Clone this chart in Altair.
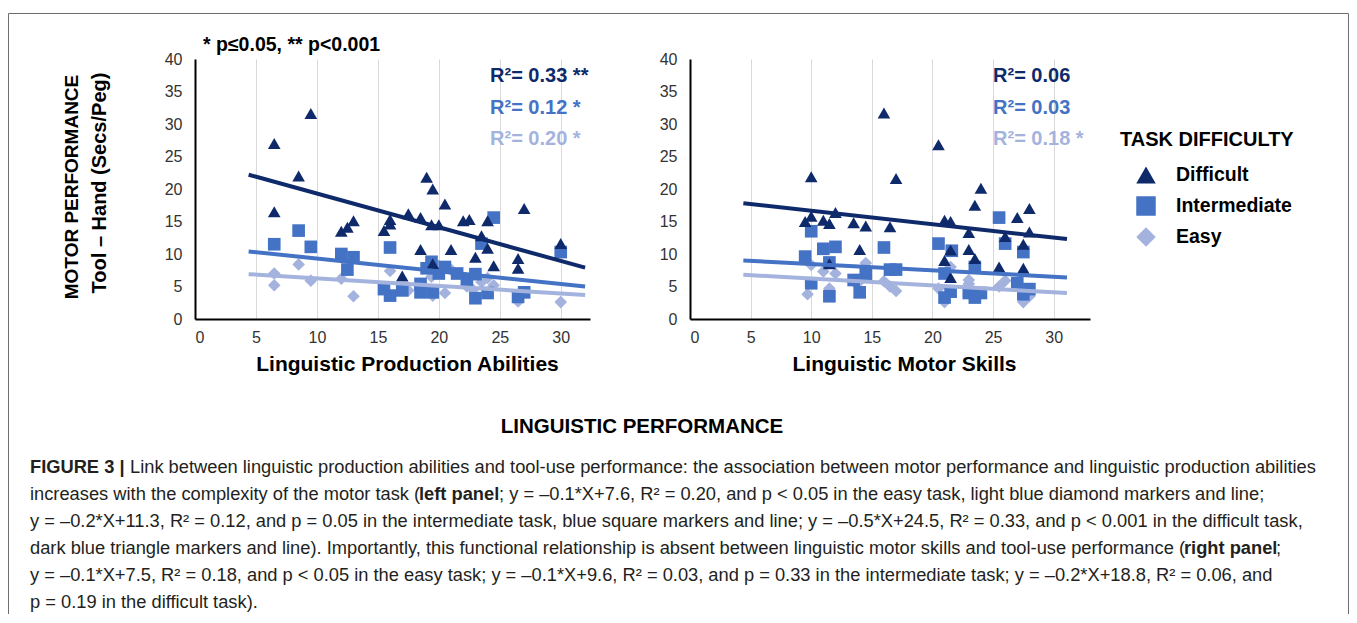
import altair as alt
import pandas as pd

FONT = "Liberation Sans"
TASKS = ["Difficult", "Intermediate", "Easy"]
COLORS = ["#0F2A6B", "#4472C4", "#A4B3DE"]
SHAPES = ["triangle-up", "square", "diamond"]
X_TICKS = [0, 5, 10, 15, 20, 25, 30]
Y_TICKS = [0, 5, 10, 15, 20, 25, 30, 35, 40]

# ---- Left panel: Linguistic Production Abilities ----
left_difficult_x = [6.5, 9.5, 8.5, 6.5, 12.0, 12.5, 13.0, 15.5, 16.0, 16.0, 17.5, 18.5, 19.0, 19.5, 20.5, 19.4,
                    20.0, 22.0, 22.5, 18.5, 21.0, 23.0, 19.5, 17.0, 24.0, 23.5, 24.0, 24.5, 27.0, 26.5, 26.5, 30.0]
left_difficult_y = [27.0, 31.6, 22.0, 16.5, 13.5, 14.1, 15.1, 13.6, 15.3, 14.6, 16.2, 15.6, 21.8, 20.0, 17.7, 14.5,
                    14.5, 15.1, 15.3, 10.7, 10.7, 9.5, 8.5, 6.6, 15.1, 12.8, 10.9, 8.2, 17.0, 9.3, 7.8, 11.6]
left_inter_x = [6.5, 8.5, 9.5, 12.0, 13.0, 12.5, 16.0, 19.4, 20.5, 20.0, 19.0, 21.5, 22.3, 23.0, 15.5, 16.0,
                17.0, 18.5, 18.5, 19.5, 23.0, 24.5, 23.5, 30.0, 24.0, 26.5, 27.0]
left_inter_y = [11.5, 13.6, 11.1, 10.0, 9.5, 7.6, 11.0, 8.8, 8.0, 7.0, 7.8, 7.0, 6.0, 6.9, 4.6, 3.6,
                4.4, 5.4, 4.1, 4.1, 3.2, 15.6, 11.6, 10.3, 4.0, 3.4, 4.1]
left_easy_x = [6.5, 6.5, 8.5, 9.5, 12.0, 13.0, 16.0, 17.5, 19.4, 20.5, 21.0, 22.3, 20.0, 22.8, 23.5, 24.0,
               24.5, 26.5, 30.0, 19.5]
left_easy_y = [7.0, 5.2, 8.4, 5.9, 6.2, 3.5, 7.4, 4.4, 6.5, 4.0, 7.6, 5.0, 8.2, 4.5, 5.7, 6.3,
               5.2, 2.7, 2.6, 3.6]

# ---- Right panel: Linguistic Motor Skills ----
right_difficult_x = [10.0, 9.5, 10.0, 11.0, 11.5, 12.0, 13.5, 14.5, 14.0, 11.5, 16.0, 17.0, 16.5, 20.5, 24.0, 23.5,
                     21.0, 21.5, 23.0, 27.0, 28.0, 26.0, 28.0, 27.5, 21.5, 23.0, 23.5, 21.0, 25.5, 27.5, 21.5]
right_difficult_y = [21.9, 15.0, 15.8, 15.2, 14.7, 16.4, 14.8, 14.3, 10.7, 8.5, 31.7, 21.6, 14.2, 26.8, 20.1, 17.5,
                     15.2, 15.0, 13.3, 15.6, 17.0, 12.7, 13.4, 11.5, 10.6, 10.7, 9.3, 9.0, 8.0, 7.8, 6.4]
right_inter_x = [10.0, 11.0, 12.0, 16.0, 9.5, 11.5, 10.0, 11.5, 13.5, 14.5, 14.0, 16.5, 17.0, 25.5, 20.5, 21.6,
                 26.0, 27.5, 23.5, 21.0, 27.0, 21.5, 21.0, 23.0, 23.5, 24.0, 28.0, 27.5]
right_inter_y = [13.5, 10.8, 11.1, 11.0, 9.6, 8.7, 5.5, 3.5, 6.0, 6.9, 4.1, 7.6, 7.6, 15.6, 11.6, 10.5,
                 11.6, 10.3, 8.0, 7.0, 5.5, 4.2, 3.3, 4.0, 3.3, 4.0, 4.6, 3.8]
right_easy_x = [10.0, 11.0, 12.0, 9.7, 11.5, 13.5, 14.5, 14.0, 16.0, 16.5, 17.0, 21.5, 23.0, 23.0, 26.0, 25.5,
                20.5, 21.0, 27.5, 28.0, 23.0]
right_easy_y = [8.3, 7.3, 7.0, 3.8, 4.7, 5.8, 8.6, 5.8, 5.8, 5.0, 4.3, 8.0, 6.0, 5.4, 5.9, 5.0,
                4.7, 2.6, 2.6, 3.5, 4.6]

# ---- Trend lines (start/end) ----
trend_panel = ["left", "left", "left", "right", "right", "right"]
trend_task = ["Difficult", "Intermediate", "Easy", "Difficult", "Intermediate", "Easy"]
trend_x0 = [4.4, 4.4, 4.4, 4.4, 4.4, 4.4]
trend_y0 = [22.2, 10.4, 6.9, 17.8, 9.0, 6.8]
trend_x1 = [32.0, 32.0, 32.0, 31.1, 31.1, 31.1]
trend_y1 = [7.9, 5.0, 3.7, 12.3, 6.4, 4.0]

# ---- R² annotations ----
r2_panel = ["left", "left", "left", "right", "right", "right"]
r2_task = ["Difficult", "Intermediate", "Easy", "Difficult", "Intermediate", "Easy"]
r2_label = ["R²= 0.33 **", "R²= 0.12 *", "R²= 0.20 *", "R²= 0.06", "R²= 0.03", "R²= 0.18 *"]
r2_x = [24.2, 24.2, 24.2, 25.0, 25.0, 25.0]
r2_y = [37.4, 32.5, 27.7, 37.4, 32.5, 27.7]

SIG_NOTE = "* p≤0.05, ** p<0.001"
Y_TITLE = ["MOTOR PERFORMANCE", "Tool – Hand (Secs/Peg)"]
X_TITLES = ["Linguistic Production Abilities", "Linguistic Motor Skills"]
SUPER_TITLE = "LINGUISTIC PERFORMANCE"
LEGEND_TITLE = "TASK DIFFICULTY"

CAPTION = [
    [("FIGURE 3 |", True, 30), ("Link between linguistic production abilities and tool-use performance: the association between motor performance and linguistic production abilities", False, 130)],
    [("increases with the complexity of the motor task (", False, 30), ("left panel", True, 419),
     ("; y = –0.1*X+7.6, R² = 0.20, and p < 0.05 in the easy task, light blue diamond markers and line;", False, 499)],
    [("y = –0.2*X+11.3, R² = 0.12, and p = 0.05 in the intermediate task, blue square markers and line; y = –0.5*X+24.5, R² = 0.33, and p < 0.001 in the difficult task,", False, 30)],
    [("dark blue triangle markers and line). Importantly, this functional relationship is absent between linguistic motor skills and tool-use performance (", False, 30),
     ("right panel", True, 1184), (";", False, 1276)],
    [("y = –0.1*X+7.5, R² = 0.18, and p < 0.05 in the easy task; y = –0.1*X+9.6, R² = 0.03, and p = 0.33 in the intermediate task; y = –0.2*X+18.8, R² = 0.06, and", False, 30)],
    [("p = 0.19 in the difficult task).", False, 30)],
]

# ---------------- build tables ----------------
rows = []
for panel, series in [("left", [("Easy", left_easy_x, left_easy_y), ("Intermediate", left_inter_x, left_inter_y),
                                 ("Difficult", left_difficult_x, left_difficult_y)]),
                      ("right", [("Easy", right_easy_x, right_easy_y), ("Intermediate", right_inter_x, right_inter_y),
                                  ("Difficult", right_difficult_x, right_difficult_y)])]:
    for task, xs, ys in series:
        for xv, yv in zip(xs, ys):
            rows.append({"panel": panel, "task": task, "x": xv, "y": yv})
points = pd.DataFrame(rows)
points["ord"] = range(len(points))

trend_rows = []
for p, t, a, b, c, d in zip(trend_panel, trend_task, trend_x0, trend_y0, trend_x1, trend_y1):
    trend_rows.append({"panel": p, "task": t, "x": a, "y": b})
    trend_rows.append({"panel": p, "task": t, "x": c, "y": d})
trends = pd.DataFrame(trend_rows)

r2 = pd.DataFrame({"panel": r2_panel, "task": r2_task, "label": r2_label, "x": r2_x, "y": r2_y})

one = pd.DataFrame({"k": [0]})

# ---------------- scales / encodings ----------------
LEG = dict(title=None, orient="none", legendX=941, legendY=106,
           labelFontSize=19.5, labelFontWeight="bold", labelFont=FONT,
           labelColor="black", symbolSize=380, rowPadding=11,
           labelOffset=20, padding=0, symbolStrokeWidth=0, symbolOpacity=1)
color = alt.Color("task:N", scale=alt.Scale(domain=TASKS, range=COLORS), legend=alt.Legend(**LEG))
shape = alt.Shape("task:N", scale=alt.Scale(domain=TASKS, range=SHAPES), legend=alt.Legend(**LEG))


def x_enc(domain, rng, title, title_x):
    return alt.X("x:Q", scale=alt.Scale(domain=domain, range=rng, nice=False, zero=False),
                 axis=alt.Axis(values=X_TICKS, orient="bottom", grid=True, gridColor="#d9d9d9",
                               gridWidth=1, ticks=False, domainColor="black", domainWidth=2,
                               labelPadding=10, labelFontSize=16, labelColor="#333333", labelFont=FONT,
                               labelOverlap=False,
                               title=title, titleFontSize=21, titleFontWeight="bold", titleFont=FONT,
                               titleColor="black", titleX=title_x, titleY=45, titleBaseline="middle"))


def y_enc(offset):
    return alt.Y("y:Q", scale=alt.Scale(domain=[0, 40], nice=False),
                 axis=alt.Axis(values=Y_TICKS, orient="left", offset=offset, grid=False, ticks=False,
                               domainColor="black", domainWidth=2, labelPadding=13, labelFontSize=16,
                               labelColor="#333333", labelFont=FONT, labelOverlap=False, title=None))


def panel(name, domain, rng, title, title_x, offset):
    xe = x_enc(domain, rng, title, title_x)
    ye = y_enc(offset)
    pts = alt.Chart(points).transform_filter(alt.datum.panel == name).mark_point(
        filled=True, size=160, opacity=1, strokeWidth=0).encode(x=xe, y=ye, color=color, shape=shape,
                                                                 order=alt.Order("ord:Q"))
    lines = alt.Chart(trends).transform_filter(alt.datum.panel == name).mark_line(
        strokeWidth=4).encode(x=xe, y=ye, color=color, detail="task:N")
    txt = alt.Chart(r2).transform_filter(alt.datum.panel == name).mark_text(
        align="left", baseline="middle", fontSize=20, fontWeight="bold", font=FONT).encode(
        x=xe, y=ye, text="label:N", color=color)
    return alt.layer(pts, lines, txt)


left = panel("left", [0, 32.4], [0, 395], X_TITLES[0], 212, 0)
right = panel("right", [0, 33], [495, 895], X_TITLES[1], 709, -495)


def label(text, x, y, size, weight="bold", align="left", angle=0, color="black", font=FONT):
    return alt.Chart(one).mark_text(text=text, align=align, baseline="middle", fontSize=size,
                                    fontWeight=weight, font=font, angle=angle, color=color).encode(
        x=alt.value(x), y=alt.value(y))


overlays = [
    label(SIG_NOTE, 8, -14, 19.5),
    label(Y_TITLE[0], -123, 128, 19, align="center", angle=270),
    label(Y_TITLE[1], -95, 124, 20, align="center", angle=270),
    label(SUPER_TITLE, 447, 368, 20.5, align="center"),
    label(LEGEND_TITLE, 925, 81, 20),
]

CAP_COLOR = "#231f20"
for i, segs in enumerate(CAPTION):
    for text, bold, xpix in segs:
        overlays.append(label(text, xpix - 195, 409 + 27 * i, 18.3, weight="bold" if bold else "normal",
                              color=CAP_COLOR))

frame_color = "#6d6e71"
frame = [
    alt.Chart(one).mark_rule(color=frame_color, strokeWidth=1).encode(
        x=alt.value(-186.5), x2=alt.value(1153.5), y=alt.value(-45.5)),
    alt.Chart(one).mark_rule(color=frame_color, strokeWidth=1).encode(
        x=alt.value(-186.5), y=alt.value(-45.5), y2=alt.value(580)),
    alt.Chart(one).mark_rule(color=frame_color, strokeWidth=1).encode(
        x=alt.value(1153.5), y=alt.value(-45.5), y2=alt.value(580)),
]

chart = alt.layer(left, right, *overlays, *frame).resolve_scale(
    x="independent", y="independent"
).properties(
    width=895, height=260,
    autosize=alt.AutoSizeParams(type="none"),
    padding={"left": 187, "top": 51, "right": 259, "bottom": 295},
    background="white",
).configure_view(stroke=None)

chart.save("out.html", embed_options={"renderer": "svg", "actions": False})
